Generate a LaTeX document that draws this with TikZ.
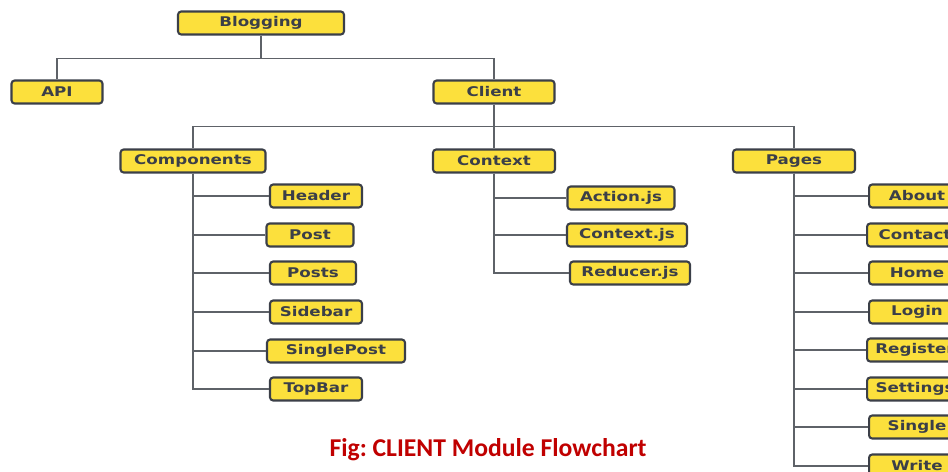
\documentclass[tikz,border=0pt]{standalone}
\usepackage{fontspec}
\usepackage{xcolor}
\usepackage{tikz}
\newfontfamily\boxfont{DejaVu Sans}[FakeStretch=1.25]
\newfontfamily\capfont{Carlito}
\usetikzlibrary{positioning}
\definecolor{boxyellow}{HTML}{FCE03C}
\definecolor{boxline}{HTML}{3B3F48}
\definecolor{treeline}{HTML}{5E6268}
\definecolor{capred}{HTML}{C00000}
\frenchspacing
\tikzset{
  blk/.style={draw=boxline, fill=boxyellow, line width=1.2pt, rounded corners=1.8pt,
    minimum width=#1*0.2mm, minimum height=4.6mm, inner sep=0pt,
    font=\boxfont\bfseries\fontsize{7.6}{9}\selectfont, text=boxline},
  link/.style={draw=treeline, line width=0.95pt}
}

\begin{document}
\begin{tikzpicture}[x=0.02cm, y=-0.02cm]
\clip (0,0) rectangle (948,472);

%top
\node[blk=166] (blog) at (261,23) {Blogging};
\node[blk=91] (api) at (57,92) {API};
\node[blk=121] (client) at (494,92) {Client};

%client
\node[blk=145] (comp) at (193,161) {Components};
\node[blk=122] (ctx) at (494,161) {Context};
\node[blk=122] (pages) at (794,161) {Pages};

%components
\node[blk=92] (header) at (316,196) {Header};
\node[blk=87] (post) at (310,235) {Post};
\node[blk=86] (posts) at (313,273) {Posts};
\node[blk=92] (sidebar) at (316,312) {Sidebar};
\node[blk=138] (single) at (336,351) {SinglePost};
\node[blk=92] (topbar) at (316,389) {TopBar};

%context
\node[blk=107] (action) at (621,198) {Action.js};
\node[blk=120] (ctxjs) at (627,235) {Context.js};
\node[blk=120] (reducer) at (630,273) {Reducer.js};

%pages
\node[blk=96, anchor=west] (about) at (868,196) {About};
\node[blk=96, anchor=west] (contact) at (866,235) {Contact};
\node[blk=96, anchor=west] (home) at (868,273) {Home};
\node[blk=96, anchor=west] (login) at (868,312) {Login};
\node[blk=96, anchor=west] (register) at (866,350) {Register};
\node[blk=96, anchor=west] (settings) at (866,389) {Settings};
\node[blk=96, anchor=west] (singlepg) at (868,427) {Single};
\node[blk=96, anchor=west] (write) at (868,466) {Write};

%tree lines
\draw[link] (blog.south) -- ++(0,23) coordinate (t1);
\draw[link] (api.north) |- (t1) -| (client.north);
\draw[link] (client.south) -- (ctx.north);
\draw[link] (comp.north) -- ++(0,-22) -| (pages.north);

\foreach \c in {header,post,posts,sidebar,single,topbar}
  \draw[link] (comp.south) |- (\c.west);
\foreach \c in {action,ctxjs,reducer}
  \draw[link] (ctx.south) |- (\c.west);
\foreach \c in {about,contact,home,login,register,settings,singlepg,write}
  \draw[link] (pages.south) |- (\c.west);

%caption
\node[font=\capfont\bfseries\fontsize{14.6}{17}\selectfont, text=capred] (cap) at (488,450) {Fig: CLIENT Module Flowchart};
\end{tikzpicture}
\end{document}
